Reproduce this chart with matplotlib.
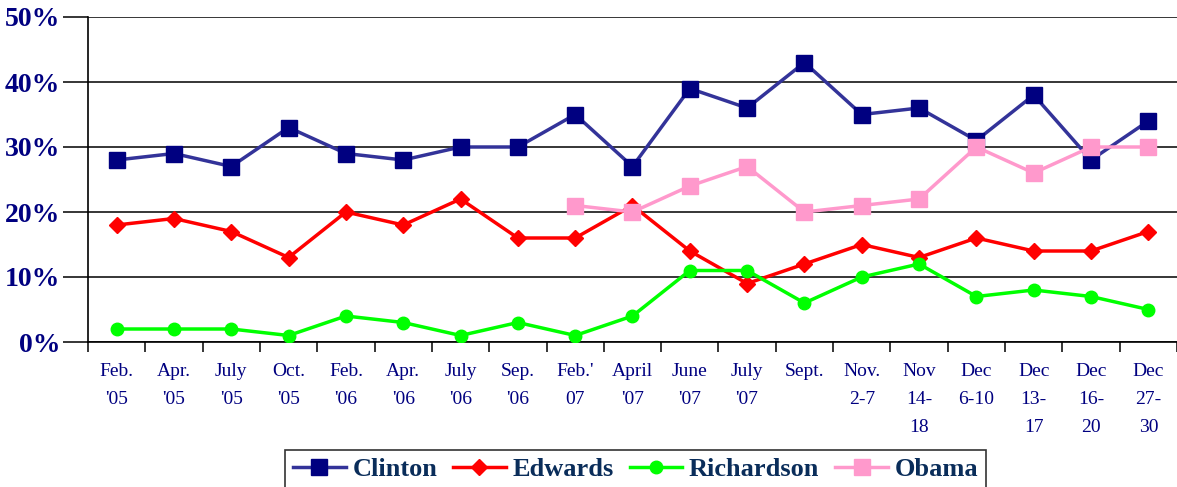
import numpy as np
import matplotlib.pyplot as plt
from matplotlib.ticker import FixedLocator, PercentFormatter

labels = ["Feb.\n'05", "Apr.\n'05", "July\n'05", "Oct.\n'05", "Feb.\n'06", "Apr.\n'06",
          "July\n'06", "Sep.\n'06", "Feb.'\n07", "April\n'07", "June\n'07", "July\n'07",
          "Sept.\n", "Nov.\n2-7", "Nov\n14-\n18", "Dec\n6-10", "Dec\n13-\n17",
          "Dec\n16-\n20", "Dec\n27-\n30"]

clinton = [28, 29, 27, 33, 29, 28, 30, 30, 35, 27, 39, 36, 43, 35, 36, 31, 38, 28, 34]
edwards = [18, 19, 17, 13, 20, 18, 22, 16, 16, 21, 14, 9, 12, 15, 13, 16, 14, 14, 17]
richardson = [2, 2, 2, 1, 4, 3, 1, 3, 1, 4, 11, 11, 6, 10, 12, 7, 8, 7, 5]
obama = [np.nan] * 8 + [21, 20, 24, 27, 20, 21, 22, 30, 26, 30, 30]

navy = "#000080"
serif = ["Liberation Serif", "DejaVu Serif"]

fig = plt.figure(figsize=(11.77, 4.87), dpi=100)
ax = fig.add_axes([88 / 1177, 1 - 342 / 487, 1 - 88 / 1177, (342 - 17) / 487])

x = np.arange(len(labels))
ax.plot(x, clinton, color="#333399", lw=2.5, marker="s", ms=11, mfc=navy, mec=navy, label="Clinton", zorder=3)
ax.plot(x, edwards, color="#ff0000", lw=2.5, marker="D", ms=8, mfc="#ff0000", mec="#ff0000", label="Edwards", zorder=4)
ax.plot(x, richardson, color="#00ff00", lw=2.5, marker="o", ms=9, mfc="#00ff00", mec="#00ff00", label="Richardson", zorder=5)
ax.plot(x, obama, color="#ff99cc", lw=2.5, marker="s", ms=11, mfc="#ff99cc", mec="#ff99cc", label="Obama", zorder=6)

ax.set_xlim(-0.5, len(labels) - 0.5)
ax.set_ylim(0, 50)
ax.set_yticks(range(0, 51, 10))
ax.yaxis.set_major_formatter(PercentFormatter(decimals=0))
ax.grid(axis="y", color="black", lw=1.1, zorder=0)
ax.set_axisbelow(True)

ax.set_xticks(x)
ax.set_xticklabels(labels, fontfamily=serif, fontsize=14, color=navy, linespacing=1.85, va="top")
ax.xaxis.set_minor_locator(FixedLocator(np.arange(-0.5, len(labels), 1.0)))
ax.tick_params(axis="x", which="major", length=0, pad=15)
ax.tick_params(axis="x", which="minor", length=7, width=1.1, color="black")
ax.tick_params(axis="y", length=18, width=1.1, color="black", pad=2)
for t in ax.get_yticklabels():
    t.set_fontfamily(serif)
    t.set_fontsize(20)
    t.set_fontweight("bold")
    t.set_color(navy)

for side in ["top", "right"]:
    ax.spines[side].set_visible(False)
for side in ["left", "bottom"]:
    ax.spines[side].set_linewidth(1.2)
    ax.spines[side].set_color("black")

leg = fig.legend(loc="upper center", bbox_to_anchor=(0.54, 1 - 450 / 487), ncol=4,
                 prop={"family": serif, "size": 19, "weight": "bold"}, frameon=True,
                 fancybox=False, edgecolor="black", handlelength=2.0, handletextpad=0.25,
                 columnspacing=0.6, borderpad=0.3, borderaxespad=0)
leg.get_frame().set_linewidth(1.2)
for t in leg.get_texts():
    t.set_color("#0a2d5a")

fig.savefig("out.png", dpi=100)
